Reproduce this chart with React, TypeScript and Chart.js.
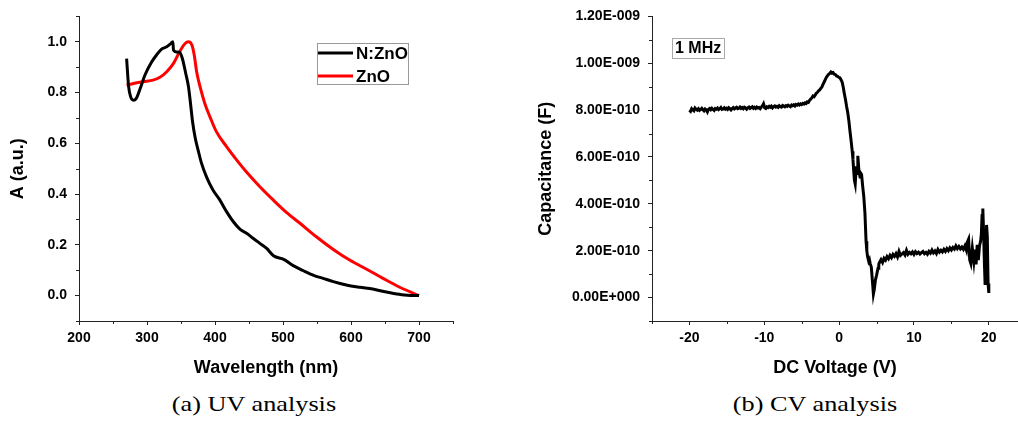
import React, { useEffect, useRef } from "react";
import { Chart, registerables } from "chart.js";

Chart.register(...registerables);

// ---------- (a) UV analysis ----------
const uvNZnO: [number, number][] = [
  [270, 0.934], [273, 0.823], [276, 0.783], [280, 0.770], [284, 0.776], [290, 0.816],
  [297, 0.869], [307, 0.921], [314, 0.948], [321, 0.970], [329, 0.980], [335, 0.993],
  [338, 1.0], [339, 0.967], [343.5, 0.96], [348, 0.958], [352, 0.934], [357, 0.875],
  [361, 0.823], [364, 0.757], [367, 0.685], [371, 0.62], [375, 0.575], [380, 0.523],
  [387.5, 0.468], [397, 0.416], [407, 0.377], [417, 0.331], [427, 0.291], [437, 0.261],
  [447, 0.245], [456, 0.226], [466, 0.206], [476, 0.186], [486, 0.157], [501, 0.143],
  [515, 0.118], [530, 0.098], [545, 0.080], [559, 0.068], [574, 0.055], [593, 0.042],
  [613, 0.033], [632, 0.026], [652, 0.014], [671, 0.005], [691, 0.0], [700, 0.0],
];
const uvZnO: [number, number][] = [
  [270, 0.829], [280, 0.836], [294.5, 0.843], [309, 0.849], [319, 0.860], [329, 0.882],
  [339, 0.915], [348, 0.961], [356, 0.993], [361, 1.0], [366, 0.987], [369.5, 0.947],
  [373, 0.882], [378, 0.823], [385, 0.757], [392.5, 0.705], [402, 0.646], [417, 0.587],
  [432, 0.534], [446, 0.488], [466, 0.429], [485.5, 0.377], [505, 0.328], [525, 0.285],
  [549, 0.232], [574, 0.182], [598, 0.140], [623, 0.104], [647, 0.068], [671, 0.034],
  [700, 0.0],
];
const uvSeriesNames = ["N:ZnO", "ZnO"];
const uvXTicks = [200, 300, 400, 500, 600, 700];
const uvXMinor = [250, 350, 450, 550, 650, 750];
const uvYTicks = [0, 0.2, 0.4, 0.6, 0.8, 1.0];
const uvYMinor = [-0.1, 0.1, 0.3, 0.5, 0.7, 0.9, 1.1];

// ---------- (b) CV analysis ----------
// [DC voltage (V), capacitance in units of 1e-10 F]
const cvCurve: [number, number][] = [
  [-20, 8.0], [-19.85, 7.95], [-19.7, 8.06], [-19.55, 8.01], [-19.4, 7.97], [-19.25, 8.09],
  [-19.1, 8.04], [-18.95, 8.0], [-18.8, 8.06], [-18.65, 7.99], [-18.5, 8.03], [-18.35, 8.08],
  [-18.2, 8.02], [-18.05, 7.97], [-17.9, 8.05], [-17.75, 8.01], [-17.6, 7.92], [-17.45, 8.04],
  [-17.3, 8.07], [-17.15, 8.02], [-17.0, 8.08], [-16.85, 8.03], [-16.7, 7.99], [-16.55, 8.07],
  [-16.4, 8.04], [-16.25, 8.09], [-16.1, 8.02], [-15.95, 8.06], [-15.8, 8.11], [-15.65, 8.03],
  [-15.5, 8.05], [-15.35, 8.1], [-15.2, 8.04], [-15.05, 8.08], [-14.9, 8.03], [-14.75, 8.1],
  [-14.6, 8.06], [-14.45, 8.01], [-14.3, 8.07], [-14.15, 8.11], [-14.0, 8.05], [-13.85, 8.09],
  [-13.7, 8.12], [-13.55, 8.06], [-13.4, 8.08], [-13.25, 8.13], [-13.1, 8.07], [-12.95, 8.11],
  [-12.8, 8.06], [-12.65, 8.12], [-12.5, 8.09], [-12.35, 8.04], [-12.2, 8.1], [-12.05, 8.13],
  [-11.9, 8.07], [-11.75, 8.11], [-11.6, 8.14], [-11.45, 8.08], [-11.3, 8.12], [-11.15, 8.07],
  [-11.0, 8.13], [-10.85, 8.09], [-10.7, 8.11], [-10.55, 8.06], [-10.4, 8.13], [-10.25, 8.18],
  [-10.1, 8.27], [-9.95, 8.1], [-9.8, 8.07], [-9.65, 8.14], [-9.5, 8.11], [-9.35, 8.16],
  [-9.2, 8.12], [-9.05, 8.17], [-8.9, 8.1], [-8.75, 8.15], [-8.6, 8.18], [-8.45, 8.13],
  [-8.3, 8.16], [-8.15, 8.12], [-8.0, 8.19], [-7.85, 8.15], [-7.7, 8.13], [-7.55, 8.2],
  [-7.4, 8.17], [-7.25, 8.14], [-7.1, 8.19], [-6.95, 8.16], [-6.8, 8.21], [-6.65, 8.18],
  [-6.5, 8.15], [-6.35, 8.22], [-6.2, 8.19], [-6.05, 8.23], [-5.9, 8.18], [-5.75, 8.24],
  [-5.6, 8.21], [-5.45, 8.26], [-5.3, 8.22], [-5.15, 8.27], [-5.0, 8.24], [-4.85, 8.29],
  [-4.7, 8.26], [-4.55, 8.31], [-4.4, 8.28], [-4.25, 8.35], [-4.1, 8.33], [-3.95, 8.42],
  [-3.8, 8.47], [-3.65, 8.52], [-3.5, 8.6], [-3.35, 8.57], [-3.2, 8.64], [-3.05, 8.72],
  [-2.9, 8.76], [-2.75, 8.82], [-2.6, 8.86], [-2.45, 8.93], [-2.3, 8.99], [-2.15, 9.1],
  [-2.0, 9.2], [-1.85, 9.3], [-1.7, 9.4], [-1.55, 9.47], [-1.4, 9.53], [-1.25, 9.57],
  [-1.1, 9.63], [-0.95, 9.58], [-0.8, 9.6], [-0.65, 9.53], [-0.5, 9.52], [-0.35, 9.46],
  [-0.2, 9.44], [-0.05, 9.4], [0.1, 9.38], [0.25, 9.3], [0.4, 9.2], [0.55, 8.98],
  [0.7, 8.7], [0.85, 8.45], [1.0, 8.15], [1.15, 7.9], [1.3, 7.55], [1.45, 7.1],
  [1.6, 6.7], [1.75, 6.25], [1.85, 5.9], [1.95, 5.4], [2.05, 5.0], [2.15, 4.85],
  [2.3, 5.6], [2.4, 5.3], [2.5, 6.05], [2.65, 5.4], [2.8, 5.15], [2.9, 5.3],
  [3.0, 5.25], [3.15, 4.75], [3.3, 4.3], [3.45, 3.6], [3.6, 2.4], [3.7, 2.0],
  [3.8, 1.75], [3.95, 1.55], [4.05, 1.62], [4.15, 1.45], [4.3, 1.3], [4.45, 0.7],
  [4.58, 0.15], [4.7, 0.35], [4.85, 0.75], [5.0, 0.95], [5.2, 1.25], [5.3, 1.42],
  [5.4, 1.5], [5.6, 1.62], [5.8, 1.5], [6.0, 1.68], [6.2, 1.6], [6.4, 1.75],
  [6.6, 1.66], [6.8, 1.8], [7.0, 1.7], [7.2, 1.84], [7.4, 1.76], [7.6, 1.88],
  [7.8, 1.74], [8.0, 1.97], [8.2, 1.8], [8.4, 1.86], [8.6, 1.92], [8.8, 1.82],
  [9.0, 2.02], [9.2, 1.85], [9.4, 1.93], [9.6, 1.87], [9.8, 1.95], [10.0, 1.84],
  [10.2, 1.96], [10.4, 1.88], [10.6, 1.94], [10.8, 1.86], [11.0, 1.92], [11.2, 1.97],
  [11.4, 1.87], [11.6, 1.93], [11.8, 1.85], [12.0, 1.97], [12.2, 1.9], [12.4, 2.03],
  [12.6, 1.91], [12.8, 1.99], [13.0, 1.88], [13.2, 2.05], [13.4, 1.94], [13.6, 2.02],
  [13.8, 1.95], [14.0, 2.06], [14.2, 1.97], [14.4, 2.09], [14.6, 2.0], [14.8, 2.12],
  [15.0, 2.03], [15.2, 2.14], [15.4, 2.07], [15.6, 2.21], [15.8, 2.09], [16.0, 2.18],
  [16.2, 2.08], [16.4, 2.16], [16.6, 2.06], [16.8, 2.2], [17.0, 2.02], [17.1, 2.35],
  [17.3, 2.5], [17.45, 1.6], [17.6, 1.45], [17.8, 2.1], [18.0, 1.55], [18.15, 2.05],
  [18.3, 1.42], [18.45, 2.25], [18.6, 1.6], [18.75, 2.2], [18.9, 2.4], [19.0, 2.7],
  [19.1, 3.5], [19.2, 3.8], [19.3, 2.8], [19.4, 1.6], [19.5, 0.6], [19.6, 1.5],
  [19.7, 3.1], [19.8, 2.6], [19.9, 0.6], [20.0, 0.2],
];
const cvUnit = 1e-10;
const cvXTicks = [-20, -10, 0, 10, 20];
const cvXMinor = [-25, -15, -5, 5, 15];
const cvYTicks = [0, 2, 4, 6, 8, 10, 12]; // x 1e-10 F
const cvYMinor = [-1, 1, 3, 5, 7, 9, 11];
const cvYTickLabels = [
  "0.00E+000", "2.00E-010", "4.00E-010", "6.00E-010", "8.00E-010", "1.00E-009", "1.20E-009",
];
const cvLabel = "1 MHz";

const FONT = "'Liberation Sans', Arial, sans-serif";

const decorPlugin = {
  id: "decor",
  afterDraw(chart: any, _args: any, opts: any) {
    const { ctx } = chart;
    const x = chart.scales.x;
    const y = chart.scales.y;
    ctx.save();
    ctx.strokeStyle = "#222";
    ctx.lineWidth = 1;
    for (const v of opts.xMinor || []) {
      const px = Math.round(x.getPixelForValue(v)) + 0.5;
      if (px > chart.width) continue;
      ctx.beginPath();
      ctx.moveTo(px, y.bottom);
      ctx.lineTo(px, y.bottom + 3);
      ctx.stroke();
    }
    for (const v of opts.yMinor || []) {
      const py = Math.round(y.getPixelForValue(v)) + 0.5;
      ctx.beginPath();
      ctx.moveTo(x.left, py);
      ctx.lineTo(x.left - 3, py);
      ctx.stroke();
    }
    if (opts.legend) {
      const L = opts.legend;
      ctx.strokeStyle = "#999";
      ctx.lineWidth = 1;
      ctx.strokeRect(L.x + 0.5, L.y + 0.5, L.w, L.h);
      ctx.font = `bold 17px ${FONT}`;
      ctx.textBaseline = "middle";
      ctx.textAlign = "left";
      L.items.forEach((it: any, i: number) => {
        const yy = L.y + 10 + i * 23;
        ctx.strokeStyle = it.color;
        ctx.lineWidth = 3;
        ctx.beginPath();
        ctx.moveTo(L.x + 1, yy);
        ctx.lineTo(L.x + 36, yy);
        ctx.stroke();
        ctx.fillStyle = "#000";
        ctx.fillText(it.text, L.x + 39, yy + 1);
      });
    }
    if (opts.tag) {
      const T = opts.tag;
      ctx.strokeStyle = "#aaa";
      ctx.lineWidth = 1;
      ctx.strokeRect(T.x + 0.5, T.y + 0.5, T.w, T.h);
      ctx.font = `bold 16px ${FONT}`;
      ctx.textBaseline = "middle";
      ctx.textAlign = "left";
      ctx.fillStyle = "#000";
      ctx.fillText(T.text, T.x + 3, T.y + T.h / 2 + 1);
    }
    ctx.restore();
  },
};

function axisCommon() {
  return {
    grid: { display: true, drawOnChartArea: false, drawTicks: true, tickLength: 4, color: "#222", tickColor: "#222" },
    border: { display: true, color: "#222", width: 1 },
  };
}

function UVChart() {
  const ref = useRef<HTMLCanvasElement>(null);
  useEffect(() => {
    const chart = new Chart(ref.current!, {
      type: "line",
      data: {
        datasets: [
          {
            label: uvSeriesNames[0],
            data: uvNZnO.map(([x, y]) => ({ x, y })),
            borderColor: "#000",
            borderWidth: 3,
            pointRadius: 0,
            cubicInterpolationMode: "monotone",
          },
          {
            label: uvSeriesNames[1],
            data: uvZnO.map(([x, y]) => ({ x, y })),
            borderColor: "#ff0000",
            borderWidth: 3,
            pointRadius: 0,
            cubicInterpolationMode: "monotone",
          },
        ],
      },
      options: {
        animation: false,
        responsive: false,
        devicePixelRatio: 1,
        layout: { padding: { left: 0, right: 7, top: 16, bottom: 0 } },
        plugins: {
          legend: { display: false },
          tooltip: { enabled: false },
          decor: {
            xMinor: uvXMinor,
            yMinor: uvYMinor,
            legend: {
              x: 317, y: 43, w: 91, h: 41,
              items: [
                { text: uvSeriesNames[0], color: "#000" },
                { text: uvSeriesNames[1], color: "#ff0000" },
              ],
            },
          },
        } as any,
        scales: {
          x: {
            type: "linear",
            min: 200,
            max: 750,
            ...axisCommon(),
            afterBuildTicks: (s: any) => { s.ticks = uvXTicks.map((v) => ({ value: v })); },
            afterFit: (s: any) => { s.height = 69; },
            ticks: { autoSkip: false, maxRotation: 0, padding: 5, color: "#000", font: { family: FONT, size: 14, weight: "bold" }, callback: (v: any) => String(v) },
            title: { display: true, text: "Wavelength (nm)", color: "#000", padding: 11, font: { family: FONT, size: 18, weight: "bold" } },
          },
          y: {
            type: "linear",
            min: -0.1,
            max: 1.1,
            ...axisCommon(),
            afterBuildTicks: (s: any) => { s.ticks = uvYTicks.map((v) => ({ value: v })); },
            afterFit: (s: any) => { s.width = 79; },
            ticks: { autoSkip: false, padding: 8, color: "#000", font: { family: FONT, size: 14, weight: "bold" }, callback: (v: any) => Number(v).toFixed(1) },
            title: { display: true, text: "A (a.u.)", color: "#000", padding: 7, font: { family: FONT, size: 18, weight: "bold" } },
          },
        },
      } as any,
      plugins: [decorPlugin as any],
    });
    return () => chart.destroy();
  }, []);
  return <canvas ref={ref} width={460} height={390} style={{ position: "absolute", left: 0, top: 0 }} />;
}

function CVChart() {
  const ref = useRef<HTMLCanvasElement>(null);
  useEffect(() => {
    const chart = new Chart(ref.current!, {
      type: "line",
      data: {
        datasets: [
          {
            label: "C-V",
            data: cvCurve.map(([x, c]) => ({ x, y: c * cvUnit })),
            borderColor: "#000",
            borderWidth: 3,
            pointRadius: 0,
            tension: 0,
          },
        ],
      },
      options: {
        animation: false,
        responsive: false,
        devicePixelRatio: 1,
        layout: { padding: { left: 0, right: 0, top: 16, bottom: 0 } },
        plugins: {
          legend: { display: false },
          tooltip: { enabled: false },
          decor: {
            xMinor: cvXMinor,
            yMinor: cvYMinor.map((v) => v * cvUnit),
            tag: { x: 172, y: 38, w: 52, h: 20, text: cvLabel },
          },
        } as any,
        scales: {
          x: {
            type: "linear",
            min: -25,
            max: 23.9,
            ...axisCommon(),
            afterBuildTicks: (s: any) => { s.ticks = cvXTicks.map((v) => ({ value: v })); },
            afterFit: (s: any) => { s.height = 69; },
            ticks: { autoSkip: false, maxRotation: 0, padding: 5, color: "#000", font: { family: FONT, size: 14, weight: "bold" }, callback: (v: any) => String(v) },
            title: { display: true, text: "DC Voltage (V)", color: "#000", padding: 11, font: { family: FONT, size: 18, weight: "bold" } },
          },
          y: {
            type: "linear",
            min: -1 * cvUnit,
            max: 12 * cvUnit,
            ...axisCommon(),
            afterBuildTicks: (s: any) => { s.ticks = cvYTicks.map((v) => ({ value: v * cvUnit })); },
            afterFit: (s: any) => { s.width = 152; },
            ticks: { autoSkip: false, padding: 8, color: "#000", font: { family: FONT, size: 14, weight: "bold" }, callback: (_v: any, i: number) => cvYTickLabels[i] },
            title: { display: true, text: "Capacitance (F)", color: "#000", padding: 35, font: { family: FONT, size: 18, weight: "bold" } },
          },
        },
      } as any,
      plugins: [decorPlugin as any],
    });
    return () => chart.destroy();
  }, []);
  return <canvas ref={ref} width={518} height={390} style={{ position: "absolute", left: 500, top: 0 }} />;
}

const captionStyle: React.CSSProperties = {
  position: "absolute",
  top: 391,
  width: 300,
  textAlign: "center",
  fontFamily: "'Liberation Serif', 'Times New Roman', serif",
  fontSize: 21,
  lineHeight: "26px",
  color: "#000",
  transform: "scaleX(1.25)",
  whiteSpace: "nowrap",
};

export default function App() {
  return (
    <div style={{ position: "fixed", left: 0, top: 0, width: 1018, height: 444, background: "#fff", overflow: "hidden" }}>
      <UVChart />
      <CVChart />
      <div style={{ ...captionStyle, left: 254 - 150 }}>(a) UV analysis</div>
      <div style={{ ...captionStyle, left: 815 - 150 }}>(b) CV analysis</div>
    </div>
  );
}
